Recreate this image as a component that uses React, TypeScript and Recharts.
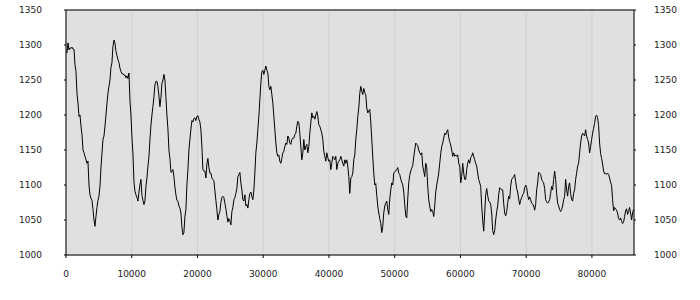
import { LineChart, Line, XAxis, YAxis, CartesianGrid, ReferenceLine } from 'recharts'

// one reading every 152 s across the day
const sampleStep = 152

const readings = [
  1291, 1289, 1303, 1293, 1296, 1295, 1297, 1294, 1294,
  1272, 1262, 1231, 1217, 1198, 1200, 1184, 1172, 1150, 1146,
  1141, 1136, 1131, 1134, 1100, 1086, 1081, 1078, 1065, 1050,
  1041, 1055, 1068, 1078, 1084, 1098, 1125, 1146, 1165, 1170,
  1184, 1200, 1217, 1231, 1241, 1250, 1268, 1275, 1298, 1307,
  1303, 1291, 1285, 1279, 1275, 1267, 1262, 1259, 1259, 1257,
  1257, 1253, 1256, 1252, 1260, 1221, 1200, 1168, 1145, 1105,
  1091, 1086, 1082, 1077, 1090, 1100, 1108, 1085, 1078, 1072,
  1077, 1098, 1110, 1127, 1140, 1165, 1185, 1200, 1212, 1226,
  1243, 1248, 1248,
  1241, 1227, 1212, 1225, 1245, 1250, 1258, 1250, 1225, 1200,
  1180, 1150, 1138, 1118, 1119, 1122, 1112, 1097, 1086, 1078,
  1077, 1070, 1067, 1060, 1040, 1029, 1032, 1055, 1065, 1100,
  1122, 1150, 1165, 1180, 1192, 1190, 1195, 1196, 1192, 1198,
  1199, 1194, 1190, 1179, 1155, 1122, 1120, 1120, 1110, 1130,
  1138, 1125, 1117, 1117, 1110, 1108, 1106, 1092, 1078, 1065,
  1050, 1058, 1062, 1075, 1082, 1084, 1082, 1074, 1066, 1056,
  1047, 1052, 1049, 1043, 1062, 1068, 1079, 1082, 1088, 1095,
  1112, 1115, 1118, 1103, 1093, 1079, 1077, 1086, 1070, 1072,
  1067, 1079, 1088, 1090, 1084, 1079, 1093, 1117, 1146, 1160,
  1179, 1198, 1222, 1246, 1262, 1264, 1258, 1264, 1270, 1264,
  1260, 1241, 1236, 1241, 1229, 1217, 1198, 1179, 1160, 1146,
  1141, 1143, 1134, 1131, 1138, 1146, 1148, 1155, 1160, 1158,
  1170, 1167, 1160, 1158, 1165, 1167, 1167, 1172, 1174, 1184,
  1191, 1189, 1174, 1155, 1136, 1146, 1165, 1150, 1155, 1158,
  1146, 1155, 1174, 1189, 1203, 1196, 1198, 1194, 1200, 1205,
  1198, 1186, 1184, 1179, 1174, 1165, 1148, 1141, 1134, 1146,
  1139, 1134, 1136, 1122, 1131, 1141, 1139, 1136, 1141, 1122,
  1131, 1134, 1136, 1141, 1136, 1131, 1127, 1136, 1131, 1136,
  1127, 1112, 1088, 1110, 1112, 1117,
  1136, 1143, 1165, 1179, 1198, 1210, 1231, 1241, 1234, 1229,
  1238, 1232, 1229, 1210, 1203, 1206, 1208, 1190, 1165, 1140,
  1117, 1100, 1102, 1085, 1070, 1060, 1052, 1045, 1032, 1041,
  1060, 1070, 1074, 1077, 1065, 1058, 1080, 1093, 1103, 1100,
  1117, 1119, 1120, 1122, 1125, 1117, 1115, 1108, 1104, 1100,
  1090, 1072, 1056, 1053, 1080, 1103, 1114, 1120, 1124, 1128,
  1140, 1150, 1160, 1158, 1156, 1150, 1146, 1143, 1146, 1127,
  1120, 1112, 1131, 1126, 1098, 1079, 1070, 1062, 1065, 1062,
  1055, 1070, 1090, 1100, 1108, 1117, 1131, 1145, 1155, 1160,
  1167, 1174, 1172, 1176, 1179, 1168,
  1162, 1157, 1150, 1141, 1146, 1141, 1143, 1141, 1143, 1131,
  1127, 1103, 1112, 1131, 1117, 1108, 1108, 1122, 1131, 1136,
  1131, 1139, 1141, 1146, 1141, 1136, 1131, 1127, 1117, 1108,
  1103, 1098, 1070, 1050, 1034, 1060, 1086, 1095, 1085, 1077,
  1076, 1072, 1060, 1035, 1029, 1035, 1050, 1062, 1070, 1086,
  1096, 1095, 1093, 1093, 1074, 1060, 1056, 1062, 1074, 1084,
  1080, 1098, 1108, 1110, 1112, 1115, 1105, 1095, 1090, 1080,
  1072, 1078, 1082, 1086, 1088, 1096, 1100, 1096, 1086, 1079,
  1083, 1079, 1074, 1073, 1070, 1064, 1072, 1093, 1103, 1118,
  1117, 1115, 1108, 1105, 1103, 1095,
  1079, 1076, 1074, 1076, 1079, 1088, 1098, 1093, 1108, 1120,
  1108, 1088, 1074, 1070, 1065, 1062, 1065, 1070, 1079, 1084,
  1108, 1093, 1084, 1098, 1103, 1088, 1079, 1077, 1088, 1093,
  1108, 1117, 1127, 1131, 1146, 1160, 1170, 1174, 1172, 1170,
  1179, 1170, 1165, 1160, 1146, 1155, 1165, 1174, 1181, 1188,
  1198, 1200, 1196, 1185, 1160, 1145, 1138, 1130, 1120, 1116,
  1117, 1115, 1117, 1115, 1110, 1104, 1099, 1079, 1063, 1068,
  1066, 1064, 1060, 1052, 1050, 1053, 1048, 1045, 1047, 1055,
  1063, 1066, 1058, 1062, 1068, 1060, 1050, 1060, 1065,
]

const xTicks = [0, 10000, 20000, 30000, 40000, 50000, 60000, 70000, 80000]
const yTicks = [1000, 1050, 1100, 1150, 1200, 1250, 1300, 1350]

const data = readings.map((value, i) => ({ t: i * sampleStep, value }))

const tickStyle = { fontFamily: 'DejaVu Sans', fontSize: 9, fill: '#222' }

export default function App() {
  return (
    <div style={{ position: 'absolute', left: 0, top: 0, background: '#fff' }}>
      <LineChart width={700} height={300} data={data} margin={{ top: 10, right: 0, bottom: 0, left: 0 }}>
        <CartesianGrid stroke="#d0d0d0" fill="#e0e0e0" fillOpacity={1} />
        <XAxis
          dataKey="t"
          type="number"
          domain={[0, 86400]}
          ticks={xTicks}
          height={45}
          tickSize={3}
          tickMargin={13}
          axisLine={{ stroke: '#000' }}
          tickLine={{ stroke: '#000' }}
          tick={tickStyle}
          allowDataOverflow
        />
        <YAxis
          yAxisId="left"
          domain={[1000, 1350]}
          ticks={yTicks}
          width={66}
          tickSize={2}
          tickMargin={22}
          axisLine={{ stroke: '#000' }}
          tickLine={{ stroke: '#000' }}
          tick={tickStyle}
          allowDataOverflow
        />
        <YAxis
          yAxisId="right"
          orientation="right"
          domain={[1000, 1350]}
          ticks={yTicks}
          width={66}
          tickSize={2}
          tickMargin={18}
          axisLine={{ stroke: '#000' }}
          tickLine={{ stroke: '#000' }}
          tick={tickStyle}
          allowDataOverflow
        />
        <ReferenceLine yAxisId="left" y={1350} stroke="#000" />
        <Line
          yAxisId="left"
          type="linear"
          dataKey="value"
          stroke="#000"
          strokeWidth={1}
          dot={false}
          isAnimationActive={false}
        />
      </LineChart>
    </div>
  )
}
